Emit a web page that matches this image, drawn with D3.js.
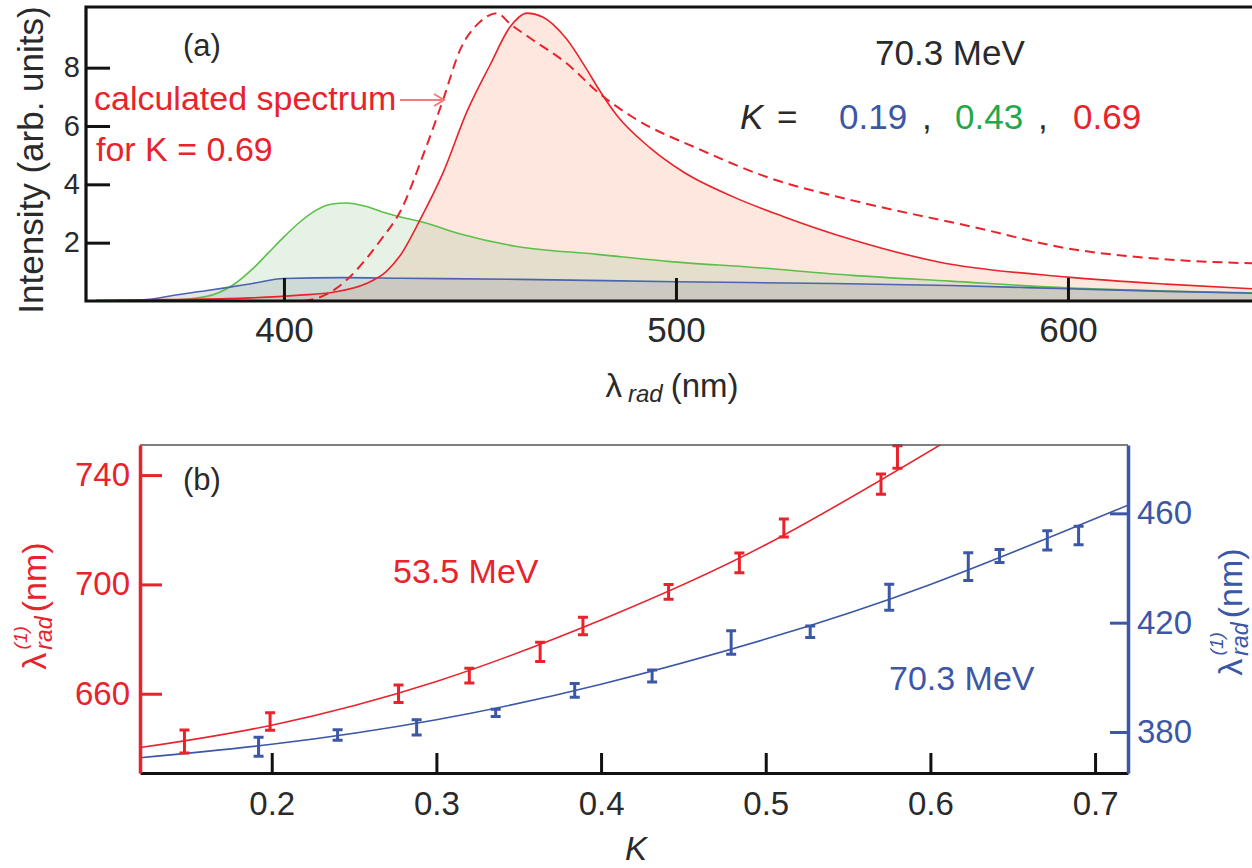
<!DOCTYPE html>
<html><head><meta charset="utf-8">
<script src="https://cdn.jsdelivr.net/npm/d3@7"></script>
<style>
html,body{margin:0;padding:0;background:#fff;}
svg{display:block;font-family:"Liberation Sans",Arial,Helvetica,sans-serif;}
</style></head>
<body><svg id="c" width="1252" height="868"></svg>
<script>
// ---------- Panel (a): spectra, 70.3 MeV ----------
const specBlueWl = [352, 365, 372, 380, 385, 392, 400, 415, 430, 460, 500, 540, 570, 600, 625, 650];
const specBlueI  = [0.0, 0.05, 0.2, 0.35, 0.45, 0.6, 0.77, 0.8, 0.78, 0.74, 0.66, 0.6, 0.53, 0.42, 0.33, 0.26];

const specGreenWl = [352, 370, 380, 387, 392, 396, 400, 404, 408, 412, 416, 421, 426, 430, 435, 445, 459, 480, 498, 520, 545, 570, 600, 625, 650];
const specGreenI  = [0.0, 0.02, 0.15, 0.55, 1.1, 1.65, 2.2, 2.7, 3.1, 3.32, 3.36, 3.24, 3.02, 2.87, 2.72, 2.3, 1.88, 1.6, 1.36, 1.15, 0.88, 0.68, 0.45, 0.34, 0.27];

const specRedWl = [352, 370, 390, 404, 412.5, 421, 426, 429.6, 434.7, 440.6, 446.7, 452.6, 457.7, 462, 466, 472, 477.2, 480.6, 485, 493.4, 501.8, 514.6, 527.3, 545, 567, 600, 625, 650];
const specRedI  = [0.02, 0.05, 0.1, 0.2, 0.3, 0.6, 1.0, 1.55, 2.78, 4.4, 6.5, 8.1, 9.4, 9.87, 9.74, 9.0, 7.95, 7.2, 6.35, 5.25, 4.43, 3.57, 2.9, 2.1, 1.34, 0.82, 0.58, 0.4];

const calcRedWl = [405, 409, 413, 417, 421, 425, 429.6, 435.5, 440.6, 444.9, 450, 454.3, 457.7, 463.5, 472, 480.6, 489, 506, 523, 545, 575.8, 600, 618.4, 650];
const calcRedI  = [0.0, 0.12, 0.4, 0.85, 1.45, 2.15, 3.05, 5.0, 6.9, 8.6, 9.57, 9.87, 9.5, 8.95, 8.16, 7.1, 6.3, 5.2, 4.26, 3.45, 2.54, 1.8, 1.5, 1.28];

const aXTicks = [400, 500, 600];
const aYTicks = [2, 4, 6, 8];
const kLabels = ["0.19", "0.43", "0.69"];

// ---------- Panel (b): first harmonic wavelength vs K ----------
const redK = [0.147, 0.199, 0.277, 0.320, 0.363, 0.389, 0.441, 0.484, 0.511, 0.570, 0.580];
const redL = [642.5, 649.8, 660.0, 666.6, 675.3, 684.8, 697.3, 707.9, 720.6, 736.7, 746.6];
const redE = [4.2, 3.2, 3.2, 2.7, 3.5, 3.2, 2.7, 3.6, 3.3, 3.7, 4.1];

const blueK = [0.192, 0.240, 0.288, 0.336, 0.384, 0.431, 0.479, 0.527, 0.575, 0.623, 0.642, 0.671, 0.690];
const blueL = [374.6, 378.9, 381.7, 387.0, 395.2, 400.5, 412.7, 416.7, 429.3, 440.5, 444.4, 450.1, 451.9];
const blueE = [3.5, 1.9, 2.8, 1.3, 2.5, 2.2, 4.3, 2.1, 4.8, 5.1, 2.4, 3.5, 3.4];

const redFitK = [0.12, 0.2, 0.3, 0.4, 0.5, 0.61];
const redFitL = [640.3, 648.5, 664.5, 687.0, 714.5, 752.5];
const blueFitK = [0.12, 0.2, 0.3, 0.4, 0.5, 0.6, 0.72];
const blueFitL = [370.6, 375.5, 384.5, 397.5, 414.0, 434.0, 463.0];

const bXTicks = [0.2, 0.3, 0.4, 0.5, 0.6, 0.7];
const bLeftTicks = [660, 700, 740];
const bRightTicks = [380, 420, 460];

// ---------- colours ----------
const RED = "#e8232b", GREEN = "#22a84a", BLUE = "#3b57a6", TXT = "#2a2a2a";
const FONT = '"Liberation Sans",Arial,Helvetica,sans-serif';

const svg = d3.select("#c");
const defs = svg.append("defs");

// ================= Panel (a) =================
const ax = {l: 86, t: 7, r: 1262, b: 301};
const xa = d3.scaleLinear().domain([349.5, 649.5]).range([ax.l, ax.r]);
const ya = d3.scaleLinear().domain([0, 10.08]).range([ax.b, ax.t]);

defs.append("clipPath").attr("id", "clipA")
  .append("rect").attr("x", ax.l).attr("y", ax.t).attr("width", ax.r - ax.l).attr("height", ax.b - ax.t);

const gA = svg.append("g").attr("clip-path", "url(#clipA)");
const zip = (xs, ys) => xs.map((v, i) => [v, ys[i]]);

const areaA = d3.area().x(d => xa(d[0])).y0(ya(0)).y1(d => ya(d[1])).curve(d3.curveMonotoneX);
const lineA = d3.line().x(d => xa(d[0])).y(d => ya(d[1])).curve(d3.curveMonotoneX);

gA.append("path").attr("d", areaA(zip(specRedWl, specRedI))).attr("fill", "#f8a080").attr("fill-opacity", 0.25);
gA.append("path").attr("d", areaA(zip(specGreenWl, specGreenI))).attr("fill", "#80c080").attr("fill-opacity", 0.2);
gA.append("path").attr("d", areaA(zip(specBlueWl, specBlueI))).attr("fill", "#506080").attr("fill-opacity", 0.16);

gA.append("path").attr("d", lineA(zip(specGreenWl, specGreenI))).attr("fill", "none").attr("stroke", "#5cbf4a").attr("stroke-width", 1.6);
gA.append("path").attr("d", lineA(zip(specBlueWl, specBlueI))).attr("fill", "none").attr("stroke", "#4a64ad").attr("stroke-width", 1.6);
gA.append("path").attr("d", lineA(zip(specRedWl, specRedI))).attr("fill", "none").attr("stroke", RED).attr("stroke-width", 1.6);
gA.append("path").attr("d", lineA(zip(calcRedWl, calcRedI))).attr("fill", "none").attr("stroke", RED).attr("stroke-width", 2)
  .attr("stroke-dasharray", "10,6");

// axes (a)
const axA_x = svg.append("g").attr("transform", `translate(0,${ax.b})`)
  .call(d3.axisBottom(xa).tickValues(aXTicks).tickSizeInner(-23).tickSizeOuter(0).tickPadding(16).tickFormat(d3.format("d")));
axA_x.select(".domain").remove();
axA_x.selectAll("line").attr("stroke", "#111").attr("stroke-width", 3);
axA_x.selectAll("text").attr("font-family", FONT).attr("font-size", 35).attr("fill", TXT);

const axA_y = svg.append("g").attr("transform", `translate(${ax.l},0)`)
  .call(d3.axisLeft(ya).tickValues(aYTicks).tickSizeInner(-24).tickSizeOuter(0).tickPadding(6).tickFormat(d3.format("d")));
axA_y.select(".domain").remove();
axA_y.selectAll("line").attr("stroke", "#111").attr("stroke-width", 3);
axA_y.selectAll("text").attr("font-family", FONT).attr("font-size", 29).attr("fill", TXT);

// frame (a)
svg.append("path").attr("d", `M${ax.r},${ax.t}H${ax.l}V${ax.b}H${ax.r}`)
  .attr("fill", "none").attr("stroke", "#111").attr("stroke-width", 3.2);

// labels (a)
svg.append("text").attr("x", 183).attr("y", 56).attr("font-size", 31).attr("fill", TXT).text("(a)");
svg.append("text").attr("transform", "translate(43,160) rotate(-90)").attr("text-anchor", "middle")
  .attr("font-size", 35).attr("fill", TXT).text("Intensity (arb. units)");

const xl = svg.append("text").attr("x", 672).attr("y", 397).attr("text-anchor", "middle").attr("fill", TXT).attr("font-size", 33);
xl.append("tspan").text("λ");
xl.append("tspan").attr("font-style", "italic").attr("font-size", 24).attr("dx", 6).attr("dy", 5).text("rad");
xl.append("tspan").attr("dx", 8).attr("dy", -5).text("(nm)");

svg.append("text").attr("x", 94).attr("y", 110).attr("font-size", 34).attr("fill", RED).text("calculated spectrum");
svg.append("text").attr("x", 96).attr("y", 161).attr("font-size", 34).attr("fill", RED).text("for K = 0.69");

// arrow
svg.append("line").attr("x1", 400).attr("y1", 100).attr("x2", 444).attr("y2", 100).attr("stroke", "#f07c7c").attr("stroke-width", 2);
svg.append("path").attr("d", "M434,94L444,100L434,106").attr("fill", "none").attr("stroke", "#f07c7c").attr("stroke-width", 2);

svg.append("text").attr("x", 875).attr("y", 65).attr("font-size", 35).attr("fill", TXT).text("70.3 MeV");
svg.append("text").attr("x", 740).attr("y", 129).attr("font-size", 35).attr("fill", TXT).attr("font-style", "italic").text("K");
svg.append("text").attr("x", 777).attr("y", 129).attr("font-size", 35).attr("fill", TXT).text("=");
const kCols = [BLUE, GREEN, RED];
const kX = [839, 955, 1073];
kLabels.forEach((t, i) => {
  svg.append("text").attr("x", kX[i]).attr("y", 129).attr("font-size", 35).attr("fill", kCols[i]).text(t);
});
svg.append("text").attr("x", 922).attr("y", 129).attr("font-size", 35).attr("fill", TXT).text(",");
svg.append("text").attr("x", 1038).attr("y", 129).attr("font-size", 35).attr("fill", TXT).text(",");

// ================= Panel (b) =================
const bx = {l: 140, t: 445, r: 1128, b: 773};
const xb = d3.scaleLinear().domain([0.12, 0.72]).range([bx.l, bx.r]);
const yl = d3.scaleLinear().domain([631, 751]).range([bx.b, bx.t]);
const yr = d3.scaleLinear().domain([365, 485]).range([bx.b, bx.t]);

defs.append("clipPath").attr("id", "clipB")
  .append("rect").attr("x", bx.l).attr("y", bx.t - 3).attr("width", bx.r - bx.l).attr("height", bx.b - bx.t + 3);
defs.append("clipPath").attr("id", "clipB2")
  .append("rect").attr("x", bx.l).attr("y", bx.t).attr("width", bx.r - bx.l).attr("height", bx.b - bx.t);

const gB = svg.append("g");
const fitR = d3.line().x(d => xb(d[0])).y(d => yl(d[1])).curve(d3.curveNatural);
const fitB = d3.line().x(d => xb(d[0])).y(d => yr(d[1])).curve(d3.curveNatural);
gB.append("path").attr("clip-path", "url(#clipB2)").attr("d", fitR(zip(redFitK, redFitL)))
  .attr("fill", "none").attr("stroke", RED).attr("stroke-width", 1.6);
gB.append("path").attr("clip-path", "url(#clipB2)").attr("d", fitB(zip(blueFitK, blueFitL)))
  .attr("fill", "none").attr("stroke", BLUE).attr("stroke-width", 1.6);

function errBars(ks, vs, es, ys, col) {
  const g = gB.append("g").attr("clip-path", "url(#clipB)").attr("stroke", col).attr("stroke-width", 3).attr("fill", "none");
  ks.forEach((k, i) => {
    const x = xb(k), y1 = ys(vs[i] - es[i]), y2 = ys(vs[i] + es[i]);
    g.append("path").attr("d", `M${x},${y1}V${y2}M${x - 5},${y1}H${x + 5}M${x - 5},${y2}H${x + 5}`);
  });
}
errBars(redK, redL, redE, yl, RED);
errBars(blueK, blueL, blueE, yr, BLUE);

// frame (b)
svg.append("line").attr("x1", bx.l).attr("x2", bx.r).attr("y1", bx.t).attr("y2", bx.t).attr("stroke", "#555").attr("stroke-width", 1.6);

const axB_x = svg.append("g").attr("transform", `translate(0,${bx.b})`)
  .call(d3.axisBottom(xb).tickValues(bXTicks).tickSizeInner(-20).tickSizeOuter(0).tickPadding(19).tickFormat(d3.format(".1f")));
axB_x.select(".domain").attr("stroke", "#111").attr("stroke-width", 3.2);
axB_x.selectAll(".tick line").attr("stroke", "#111").attr("stroke-width", 3);
axB_x.selectAll("text").attr("font-family", FONT).attr("font-size", 33).attr("fill", TXT);

const axB_l = svg.append("g").attr("transform", `translate(${bx.l},0)`)
  .call(d3.axisLeft(yl).tickValues(bLeftTicks).tickSizeInner(-22).tickSizeOuter(0).tickPadding(10).tickFormat(d3.format("d")));
axB_l.select(".domain").attr("stroke", RED).attr("stroke-width", 3.5);
axB_l.selectAll(".tick line").attr("stroke", RED).attr("stroke-width", 3);
axB_l.selectAll("text").attr("font-family", FONT).attr("font-size", 33).attr("fill", RED);

const axB_r = svg.append("g").attr("transform", `translate(${bx.r},0)`)
  .call(d3.axisRight(yr).tickValues(bRightTicks).tickSizeInner(-18).tickSizeOuter(0).tickPadding(9).tickFormat(d3.format("d")));
axB_r.select(".domain").attr("stroke", BLUE).attr("stroke-width", 3.5);
axB_r.selectAll(".tick line").attr("stroke", BLUE).attr("stroke-width", 3);
axB_r.selectAll("text").attr("font-family", FONT).attr("font-size", 33).attr("fill", BLUE);

// labels (b)
svg.append("text").attr("x", 183).attr("y", 490).attr("font-size", 31).attr("fill", TXT).text("(b)");
svg.append("text").attr("x", 393).attr("y", 583).attr("font-size", 34).attr("fill", RED).text("53.5 MeV");
svg.append("text").attr("x", 889).attr("y", 690).attr("font-size", 34).attr("fill", BLUE).text("70.3 MeV");
svg.append("text").attr("x", 636).attr("y", 860).attr("text-anchor", "middle").attr("font-size", 33)
  .attr("font-style", "italic").attr("fill", TXT).text("K");

function lamLabel(x, y, col) {
  const t = svg.append("text").attr("transform", `translate(${x},${y}) rotate(-90)`).attr("text-anchor", "middle")
    .attr("fill", col).attr("font-size", 34);
  t.append("tspan").text("λ");
  t.append("tspan").attr("font-style", "italic").attr("font-size", 23).attr("dx", 3).attr("dy", 6).text("rad");
  t.append("tspan").attr("font-style", "italic").attr("font-size", 19).attr("dx", -33).attr("dy", -25).text("(1)");
  t.append("tspan").attr("dx", 14).attr("dy", 19).text("(nm)");
}
lamLabel(46, 606, RED);
lamLabel(1242, 612, BLUE);
</script></body></html>
